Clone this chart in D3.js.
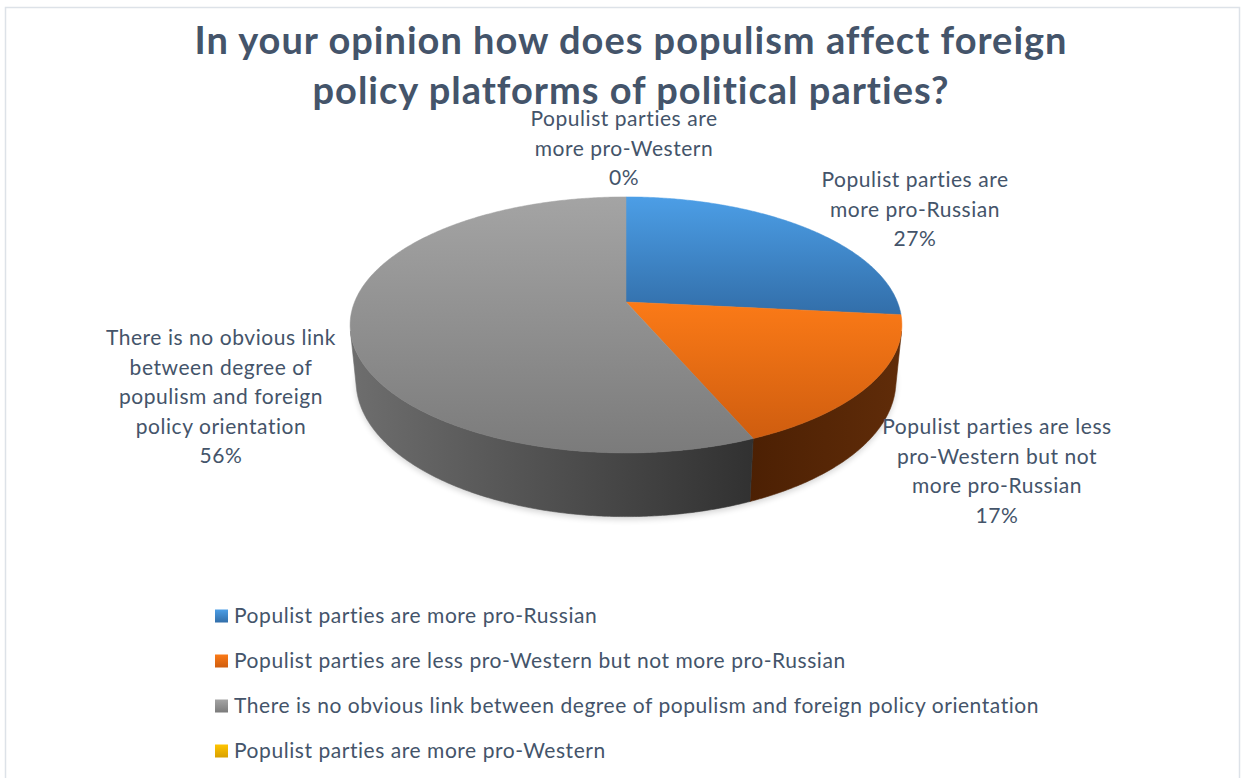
<!DOCTYPE html>
<html><head><meta charset="utf-8">
<script src="https://cdn.jsdelivr.net/npm/d3@7"></script>
<style>body{margin:0;background:#fff;}svg{display:block;}text{font-family:Lato,"Open Sans",sans-serif;fill:#44546a;}</style>
</head><body>
<script>
const titleLines = ["In your opinion how does populism affect foreign", "policy platforms of political parties?"];
const categories = [
  "Populist parties are more pro-Russian",
  "Populist parties are less pro-Western but not more pro-Russian",
  "There is no obvious link between degree of populism and foreign policy orientation",
  "Populist parties are more pro-Western"
];
// shares (labels show them rounded)
const values = [26.6, 17.0, 56.4, 0];
const labelLines = [
  ["Populist parties are", "more pro-Russian"],
  ["Populist parties are less", "pro-Western but not", "more pro-Russian"],
  ["There is no obvious link", "between degree of", "populism and foreign", "policy orientation"],
  ["Populist parties are", "more pro-Western"]
];
const topColors = [["#4c9ee6", "#326ea9"], ["#fb7a17", "#cf5d0f"], ["#a4a4a4", "#7b7b7b"], ["#ffc400", "#d8a000"]];
const sideColors = [["#2a5a8c", "#2a5a8c"], ["#4c2003", "#602c09"], ["#6e6e6e", "#313131"], ["#8a6a00", "#8a6a00"]];

const W = 1241, H = 778;
const svg = d3.select("body").append("svg").attr("width", W).attr("height", H);
svg.append("rect").attr("x", 5.5).attr("y", 7.5).attr("width", 1234).attr("height", 790)
  .attr("fill", "#fff").attr("stroke", "#dde2e8").attr("stroke-width", 1.5);

const defs = svg.append("defs");
topColors.forEach((c, i) => {
  const g = defs.append("linearGradient").attr("id", "top" + i).attr("x1", 0).attr("y1", 0).attr("x2", 0).attr("y2", 1);
  g.append("stop").attr("offset", 0).attr("stop-color", c[0]);
  g.append("stop").attr("offset", 1).attr("stop-color", c[1]);
});
sideColors.forEach((c, i) => {
  const g = defs.append("linearGradient").attr("id", "side" + i).attr("x1", 0).attr("y1", 0).attr("x2", 1).attr("y2", 0);
  g.append("stop").attr("offset", 0).attr("stop-color", c[0]);
  g.append("stop").attr("offset", 1).attr("stop-color", c[1]);
});
defs.append("filter").attr("id", "blur").attr("x", "-10%").attr("y", "-10%").attr("width", "120%").attr("height", "130%")
  .append("feGaussianBlur").attr("stdDeviation", 3);

// 3D perspective projection of a unit disk
const cx = 626, cy0 = 302, f = 1349, D = 4.97, sA = 0.4565, cA = Math.sqrt(1 - sA * sA), thick = 0.2357;
function proj(theta, Y) {
  const X = Math.sin(theta), Z = -Math.cos(theta);
  const d = D - Z * cA - Y * sA;
  const v = Y * cA - Z * sA;
  return [cx + f * X / d, cy0 - f * v / d];
}
const line = d3.line();
const arcs = d3.pie().sort(null).value(d => d)(values);
const step = Math.PI / 360;
function samples(a0, a1) {
  const n = Math.max(1, Math.ceil((a1 - a0) / step));
  return d3.range(n + 1).map(k => a0 + (a1 - a0) * k / n);
}
const tMin = Math.acos(-1 / (D * cA)), tMax = 2 * Math.PI - tMin;

// soft shadow under the pie
{
  const ts = samples(tMin - 0.3, tMax + 0.3);
  const pts = ts.map(t => proj(t, -thick - 0.01));
  svg.append("path").attr("d", line(pts) + "Z").attr("fill", "#000").attr("opacity", 0.18).attr("filter", "url(#blur)");
}

const g = svg.append("g");
arcs.forEach((a, i) => {
  const a0 = Math.max(a.startAngle, tMin), a1 = Math.min(a.endAngle, tMax);
  if (a1 <= a0) return;
  const ts = samples(a0, a1);
  const pts = ts.map(t => proj(t, 0)).concat(ts.slice().reverse().map(t => proj(t, -thick)));
  g.append("path").attr("d", line(pts) + "Z").attr("fill", `url(#side${i})`)
    .attr("stroke", `url(#side${i})`).attr("stroke-width", 0.6);
});
arcs.forEach((a, i) => {
  if (a.endAngle - a.startAngle <= 0) return;
  const ts = samples(a.startAngle, a.endAngle);
  const pts = [[cx, cy0]].concat(ts.map(t => proj(t, 0)));
  g.append("path").attr("d", line(pts) + "Z").attr("fill", `url(#top${i})`)
    .attr("stroke", `url(#top${i})`).attr("stroke-width", 0.5);
});

// Title
svg.append("text").attr("text-anchor", "middle")
  .style("font-weight", "bold").style("font-size", "38px").style("letter-spacing", "1px")
  .selectAll("tspan").data(titleLines).join("tspan")
  .attr("x", 631).attr("y", (d, i) => 54 + i * 50).text(d => d);

// Data labels
const labelPos = [[915, 187], [997, 434], [221, 345], [624, 126]];
labelLines.forEach((lines, i) => {
  const all = lines.concat([Math.round(values[i]) + "%"]);
  svg.append("text").attr("text-anchor", "middle").style("font-size", "21px").style("letter-spacing", "0.55px")
    .selectAll("tspan").data(all).join("tspan")
    .attr("x", labelPos[i][0]).attr("y", (d, k) => labelPos[i][1] + k * 29.5).text(d => d);
});

// Legend
const lg = svg.append("g");
categories.forEach((c, i) => {
  const y = 616 + i * 45;
  lg.append("rect").attr("x", 215).attr("y", y - 6.5).attr("width", 13).attr("height", 13).attr("fill", `url(#top${i})`);
  lg.append("text").attr("x", 234).attr("y", y + 6.5).style("font-size", "21px").style("letter-spacing", "0.55px").text(c);
});
</script>
</body></html>
